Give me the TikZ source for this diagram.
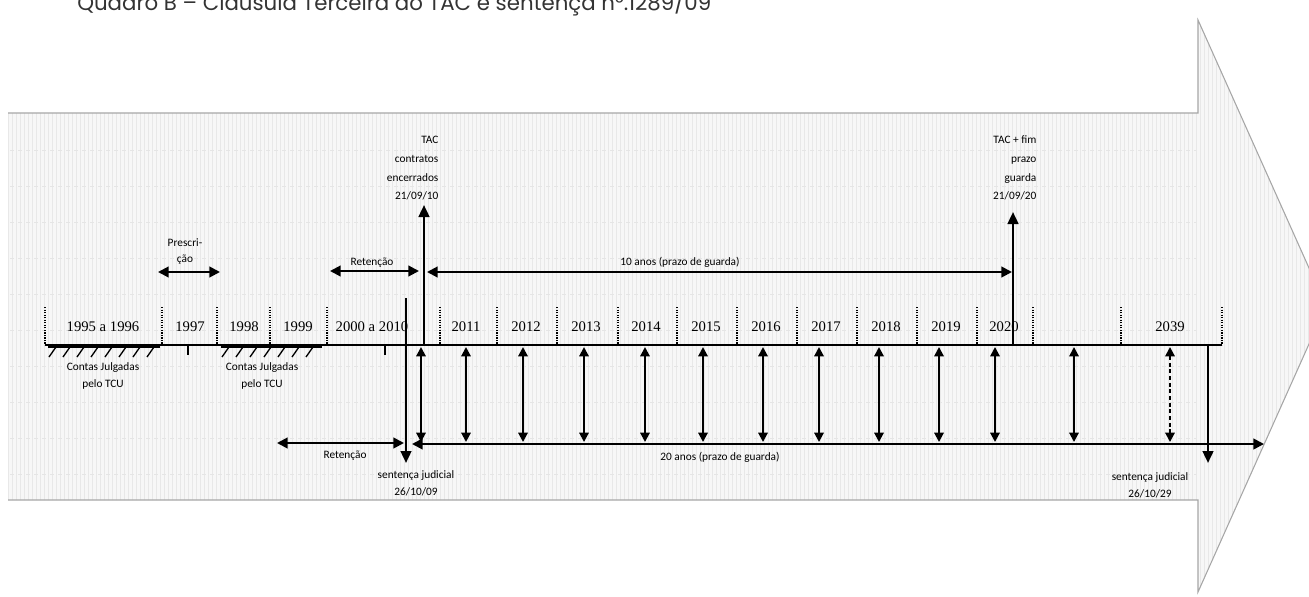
\documentclass[tikz,border=0pt]{standalone}
\usepackage{fontspec}
\setmainfont{Liberation Serif}
\newfontfamily\smallfont{Carlito}
\newfontfamily\titlefont{Poppins}
\usetikzlibrary{arrows.meta,patterns}
\tikzset{
  bgarrow/.style={draw=black!35, line width=0.8pt},
  sep/.style={densely dotted, line width=0.9pt},
  base/.style={line width=1.4pt},
  thick arrow/.style={line width=1.8pt, -{Triangle[length=9pt,width=8pt]}},
  darr/.style={line width=1.5pt, {Triangle[length=7pt,width=7pt]}-{Triangle[length=7pt,width=7pt]}},
  harr/.style={line width=1.6pt, {Triangle[length=8pt,width=8pt]}-{Triangle[length=8pt,width=8pt]}},
  lbl/.style={font=\smallfont\fontsize{8.5}{10}\selectfont, inner sep=1pt, align=center},
  yr/.style={font=\fontsize{11}{12}\selectfont, inner sep=1pt},
  hatch/.style={line width=1pt}
}
\begin{document}
\begin{tikzpicture}[x=0.75pt,y=-0.75pt]
\useasboundingbox (0,0) rectangle (1309,596);
\begin{scope}
\clip (0,0) rectangle (1309,596);
% big background arrow
\fill[black!3] (8,113) -- (1198,113) -- (1198,20) -- (1326,306) -- (1198,592) -- (1198,500) -- (8,500) -- cycle;
\fill[pattern=vertical lines, pattern color=black!9] (8,113) -- (1198,113) -- (1198,20) -- (1326,306) -- (1198,592) -- (1198,500) -- (8,500) -- cycle;
\foreach \yy in {150,186,222,258,294,330,366,402,438,474}
  \draw[black!10, dashed, line width=0.6pt] (10,\yy) -- (1196,\yy);
\draw[bgarrow] (8,113) -- (1198,113) -- (1198,20) -- (1326,306) -- (1198,592) -- (1198,500) -- (8,500);
% title (cut at the top edge, as in the reference)
\node[font=\titlefont\fontsize{16}{17}\selectfont, anchor=base west, inner sep=0pt, text=black!80] (title) at (77,10) {Quadro B – Cláusula Terceira do TAC e sentença n°.1289/09};
\end{scope}

% year table
\coordinate (bl) at (45,345);
\coordinate (br) at (1222,345);
\draw[base] (bl) -- (br);
\foreach \xx in {45,162,217,270,327,440,497,557,618,677,737,797,857,917,977,1033,1121,1222}
  \draw[sep] (\xx,307) -- (\xx,345);
\node[yr] (y1) at (103,327) {1995 a 1996};
\node[yr] (y2) at (190,327) {1997};
\node[yr] (y3) at (244,327) {1998};
\node[yr] (y4) at (298,327) {1999};
\node[yr] (y5) at (372,327) {2000 a 2010};
\node[yr] (y6) at (466,327) {2011};
\node[yr] (y7) at (526,327) {2012};
\node[yr] (y8) at (586,327) {2013};
\node[yr] (y9) at (646,327) {2014};
\node[yr] (y10) at (706,327) {2015};
\node[yr] (y11) at (766,327) {2016};
\node[yr] (y12) at (826,327) {2017};
\node[yr] (y13) at (886,327) {2018};
\node[yr] (y14) at (946,327) {2019};
\node[yr] (y15) at (1004,327) {2020};
\node[yr] (y16) at (1170,327) {2039};

% hatch marks under the line
\foreach \xx in {56,70,84,98,112,126,140,154}
  \draw[hatch] (\xx,347) -- (\xx-7,357);
\draw[hatch] (48,347) -- (160,347);
\foreach \xx in {229,243,257,271,285,299,313}
  \draw[hatch] (\xx,347) -- (\xx-7,357);
\draw[hatch] (221,347) -- (322,347);
\draw[line width=1pt] (188,345) -- (188,355);
\draw[line width=1pt] (385,345) -- (385,355);

\node[lbl] (cj1) at (103,376) {Contas Julgadas\\[3pt]pelo TCU};
\node[lbl] (cj2) at (262,376) {Contas Julgadas\\[3pt]pelo TCU};

% prescricao
\coordinate (pa) at (158,272);
\coordinate (pb) at (220,272);
\draw[harr] (pa) -- (pb);
\node[lbl] (presc) at (185,252) {Prescri-\\[2pt]ção};

% retencao top
\coordinate (ra) at (330,271);
\coordinate (rb) at (419,271);
\draw[harr] (ra) -- (rb);
\node[lbl] (ret1) at (372,263) {Retenção};

% 10 anos
\coordinate (da) at (427,272);
\coordinate (db) at (1012,272);
\draw[harr] (da) -- (db);
\node[lbl] (dez) at (680,262) {10 anos (prazo de guarda)};

% TAC arrows
\coordinate (tac0) at (424,345);
\coordinate (tac1) at (424,205);
\draw[thick arrow] (tac0) -- (tac1);
\node[lbl, align=right, anchor=south east] (tactxt) at (440,202) {TAC\\[4pt]contratos\\[4pt]encerrados\\[4pt]21/09/10};
\coordinate (tf0) at (1013,345);
\coordinate (tf1) at (1013,212);
\draw[thick arrow] (tf0) -- (tf1);
\node[lbl, align=right, anchor=south east] (tftxt) at (1038,202) {TAC + fim\\[4pt]prazo\\[4pt]guarda\\[4pt]21/09/20};

% sentença lines
\coordinate (s0) at (406,298);
\coordinate (s1) at (406,463);
\draw[thick arrow] (s0) -- (s1);
\node[lbl, anchor=north] (sent1) at (416,469) {sentença judicial\\[3pt]26/10/09};
\coordinate (s2) at (1208,345);
\coordinate (s3) at (1208,463);
\draw[thick arrow] (s2) -- (s3);
\node[lbl, anchor=north] (sent2) at (1150,471) {sentença judicial\\[3pt]26/10/29};

% retencao bottom
\coordinate (rc) at (277,443);
\coordinate (rd) at (404,443);
\draw[harr] (rc) -- (rd);
\node[lbl] (ret2) at (345,456) {Retenção};

% 20 anos
\coordinate (va) at (412,444);
\coordinate (vb) at (1264,444);
\draw[harr] (va) -- (vb);
\node[lbl] (vinte) at (720,457) {20 anos (prazo de guarda)};

% vertical double arrows
\foreach \xx in {421,466,523,584,645,703,763,819,879,939,995,1074}
  \draw[darr] (\xx,347) -- (\xx,442);
\draw[darr, densely dashed] (1170,347) -- (1170,442);
\end{tikzpicture}
\end{document}
